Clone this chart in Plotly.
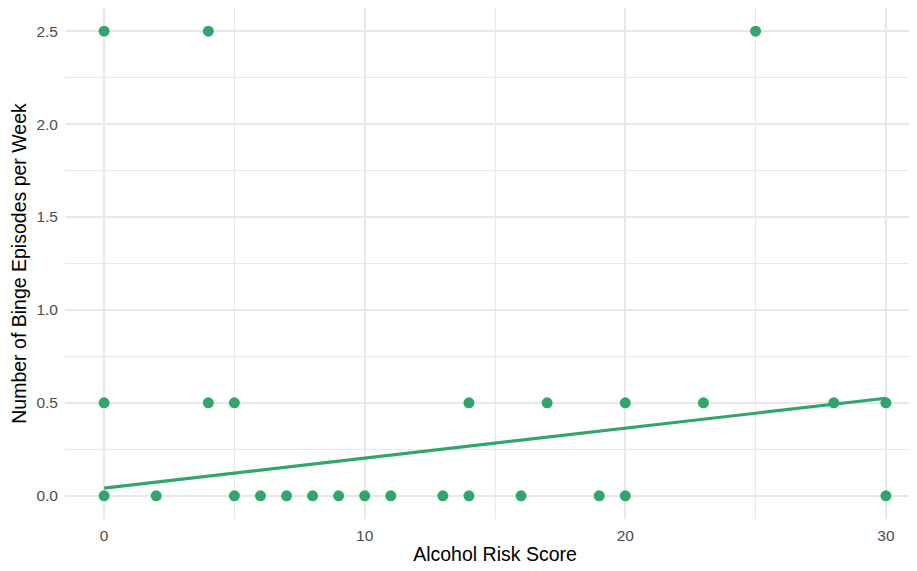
import plotly.graph_objects as go

# Data
risk_score = [0, 2, 5, 6, 7, 8, 9, 10, 11, 13, 14, 16, 19, 20, 30,
              0, 4, 5, 14, 17, 20, 23, 28, 30,
              0, 4, 25]
binge_episodes = [0.0] * 15 + [0.5] * 9 + [2.5] * 3

# Fitted linear trend (as drawn in the reference)
trend_x = [0, 30]
trend_y = [0.041, 0.525]

x_ticks = [0, 10, 20, 30]
y_ticks = [0.0, 0.5, 1.0, 1.5, 2.0, 2.5]
y_tick_labels = ["0.0", "0.5", "1.0", "1.5", "2.0", "2.5"]

GREEN = "#31A56C"

fig = go.Figure()
fig.add_trace(go.Scatter(
    x=risk_score, y=binge_episodes, mode="markers",
    marker=dict(size=11, color=GREEN, line=dict(width=0)),
    showlegend=False, hoverinfo="x+y"))
fig.add_trace(go.Scatter(
    x=trend_x, y=trend_y, mode="lines",
    line=dict(color=GREEN, width=3.2),
    showlegend=False))

grid = "#E8E8E8"
fig.update_layout(
    width=917, height=571,
    margin=dict(l=57, r=0, t=0, b=60),
    plot_bgcolor="white", paper_bgcolor="white",
    font=dict(family="Liberation Sans, Arial, sans-serif"),
    xaxis=dict(
        range=[-1.5, 31.5], tickvals=x_ticks, ticktext=[str(v) for v in x_ticks],
        showgrid=True, gridcolor=grid, gridwidth=1.5,
        minor=dict(tickvals=[5, 15, 25], showgrid=True, gridcolor=grid, gridwidth=1.1),
        zeroline=False, showline=False, ticks="", ticklabelstandoff=5,
        tickfont=dict(size=15.5, color="#4D4D4D"),
        title=dict(text="Alcohol Risk Score", font=dict(size=19.5, color="black"), standoff=4),
        automargin=False),
    yaxis=dict(
        range=[-0.125, 2.625], tickvals=y_ticks, ticktext=y_tick_labels,
        showgrid=True, gridcolor=grid, gridwidth=1.5,
        minor=dict(tickvals=[0.25, 0.75, 1.25, 1.75, 2.25], showgrid=True, gridcolor=grid, gridwidth=1.1),
        zeroline=False, showline=False, ticks="", ticklabelstandoff=6,
        tickfont=dict(size=15.5, color="#4D4D4D"),
        title=dict(text="Number of Binge Episodes per Week", font=dict(size=19.5, color="black"), standoff=6),
        automargin=False),
)

fig.write_html("out.html")
